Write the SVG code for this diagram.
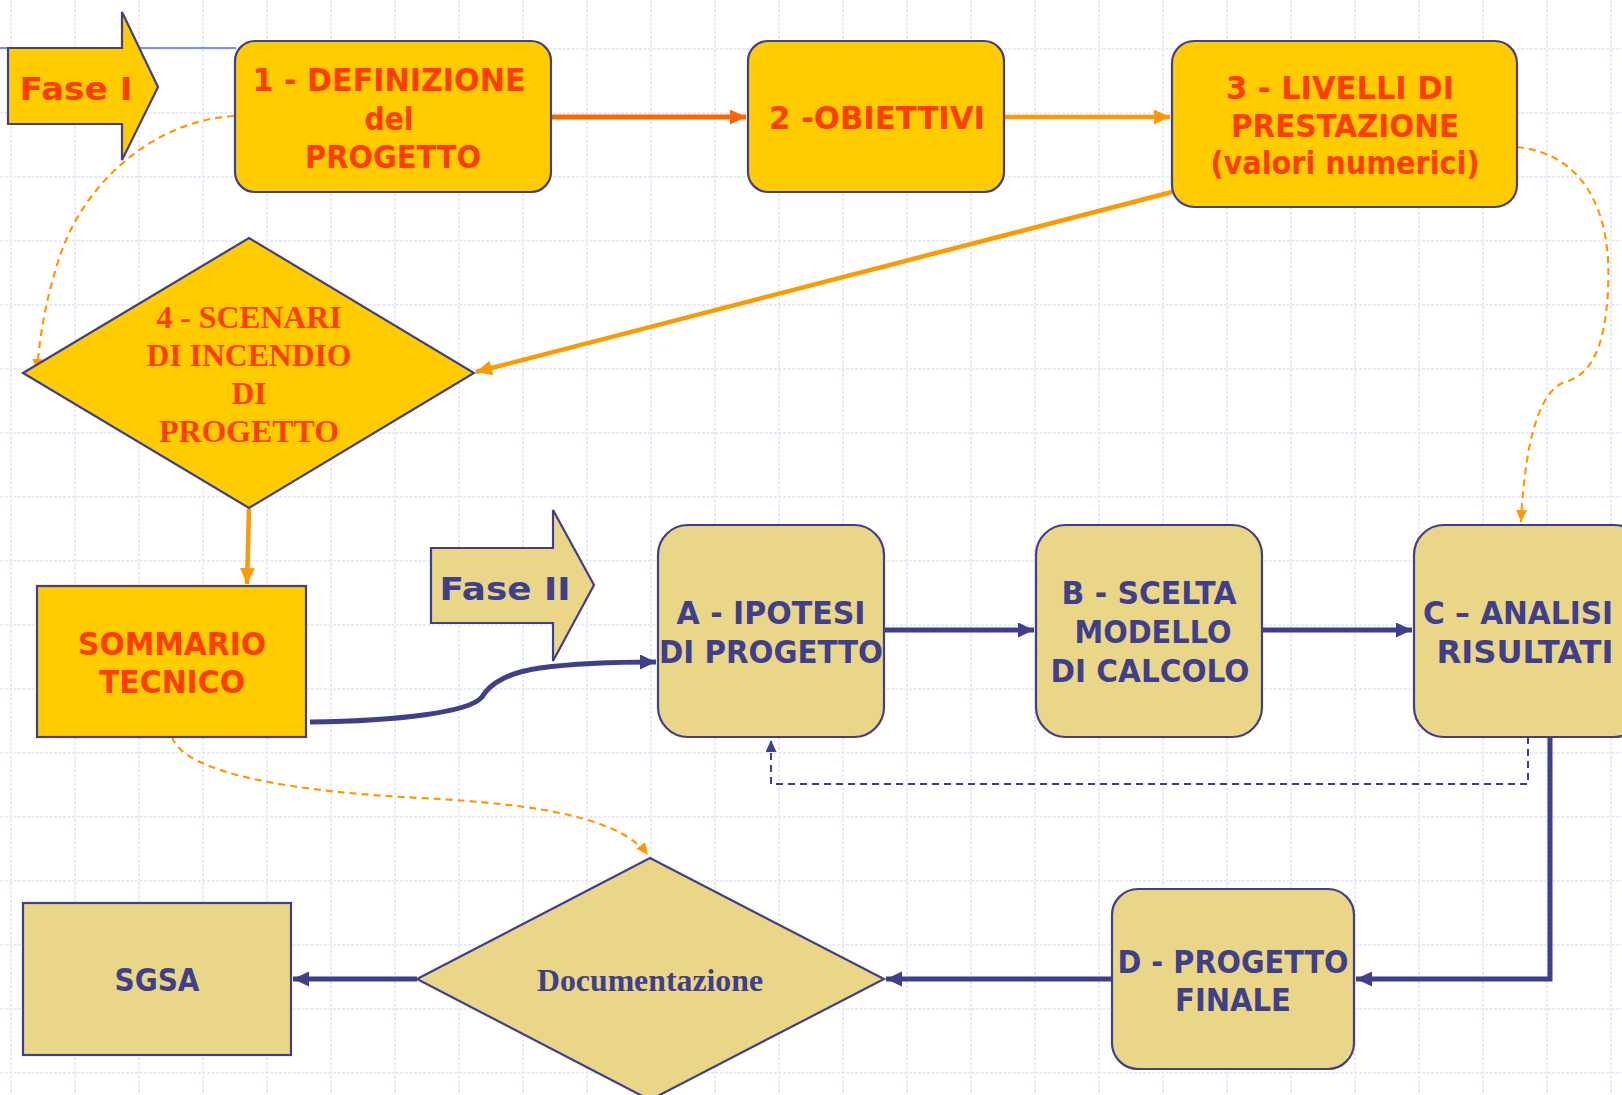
<svg xmlns="http://www.w3.org/2000/svg" width="1622" height="1095" viewBox="0 0 1622 1095">
<defs>
<style>
.grid{stroke:#dfe5fa;stroke-width:1.6;stroke-dasharray:3 1.5;fill:none}
.yel{fill:#FFCC00;stroke:#3F3F8C;stroke-width:2.2}
.kha{fill:#E9D686;stroke:#3F3F8C;stroke-width:2.2}
.ts{font-family:"DejaVu Sans","Verdana",sans-serif;font-weight:bold;font-size:32px;text-anchor:middle}
.tr{font-family:"Liberation Serif","Times New Roman",serif;font-weight:bold;font-size:32px;text-anchor:middle}
.red{fill:#FF3D00}
.nav{fill:#3F3F8C}
.c-red{stroke:#FF6600;stroke-width:5;fill:none}
.c-or{stroke:#FF9900;stroke-width:4.5;fill:none}
.c-ord{stroke:#FF9900;stroke-width:2.2;fill:none;stroke-dasharray:7 5}
.c-nav{stroke:#3F3F8C;stroke-width:5;fill:none}
.c-navd{stroke:#3F3F8C;stroke-width:2;fill:none;stroke-dasharray:7 5}
</style>
<marker id="aRed" markerUnits="userSpaceOnUse" markerWidth="18" markerHeight="16" refX="16" refY="7.5" orient="auto"><path d="M0,0 L16,7.5 L0,15 z" fill="#FF6600"/></marker>
<marker id="aOr" markerUnits="userSpaceOnUse" markerWidth="18" markerHeight="16" refX="16" refY="7.5" orient="auto"><path d="M0,0 L16,7.5 L0,15 z" fill="#FF9900"/></marker>
<marker id="aOrS" markerUnits="userSpaceOnUse" markerWidth="14" markerHeight="12" refX="12" refY="5.5" orient="auto"><path d="M0,0 L12,5.5 L0,11 z" fill="#FF9900"/></marker>
<marker id="aNav" markerUnits="userSpaceOnUse" markerWidth="18" markerHeight="16" refX="16" refY="7.5" orient="auto"><path d="M0,0 L16,7.5 L0,15 z" fill="#3F3F8C"/></marker>
<marker id="aNavS" markerUnits="userSpaceOnUse" markerWidth="14" markerHeight="12" refX="12" refY="5.5" orient="auto"><path d="M0,0 L12,5.5 L0,11 z" fill="#3F3F8C"/></marker>
</defs>
<rect x="0" y="0" width="1622" height="1095" fill="#FFFFFF"/>
<g id="grid">
<path class="grid" d="M11,0V1095M75,0V1095M139,0V1095M203,0V1095M267,0V1095M331,0V1095M395,0V1095M459,0V1095M523,0V1095M587,0V1095M651,0V1095M715,0V1095M779,0V1095M843,0V1095M907,0V1095M971,0V1095M1035,0V1095M1099,0V1095M1163,0V1095M1227,0V1095M1291,0V1095M1355,0V1095M1419,0V1095M1483,0V1095M1547,0V1095M1611,0V1095"/>
<path class="grid" d="M0,49H1622M0,113H1622M0,177H1622M0,241H1622M0,305H1622M0,369H1622M0,433H1622M0,497H1622M0,561H1622M0,625H1622M0,689H1622M0,753H1622M0,817H1622M0,881H1622M0,945H1622M0,1009H1622M0,1073H1622"/>
<path d="M0,48H236" stroke="#7F8FEA" stroke-width="1.8" fill="none"/>
</g>
<g id="connectors">
<path class="c-red" d="M551,117H746" marker-end="url(#aRed)"/>
<path class="c-or" d="M1004,117H1170" marker-end="url(#aOr)"/>
<path class="c-or" d="M1172,192L476,372" marker-end="url(#aOr)"/>
<path class="c-ord" d="M234,116C160,120 90,175 62,250C48,290 40,330 37,371" marker-end="url(#aOrS)"/>
<path class="c-or" d="M249,509L247,584" marker-end="url(#aOr)"/>
<path class="c-nav" d="M310,722C400,721 470,712 482,697C490,683 510,672 540,668C570,664 610,662 656,662" marker-end="url(#aNav)"/>
<path class="c-nav" d="M884,630H1034" marker-end="url(#aNav)"/>
<path class="c-nav" d="M1262,630H1412" marker-end="url(#aNav)"/>
<path class="c-navd" d="M1528,737V784H771V740" marker-end="url(#aNavS)"/>
<path class="c-nav" d="M1550,737V979H1356" marker-end="url(#aNav)"/>
<path class="c-nav" d="M1112,979H886" marker-end="url(#aNav)"/>
<path class="c-nav" d="M417,979H293" marker-end="url(#aNav)"/>
<path class="c-ord" d="M172,737C185,775 300,792 420,798C540,804 620,818 648,855" marker-end="url(#aOrS)"/>
<path class="c-ord" d="M1517,147C1590,155 1612,220 1608,290C1605,350 1590,375 1565,382C1540,390 1525,440 1521,522" marker-end="url(#aOrS)"/>
</g>
<g id="fase1">
<path class="yel" d="M8,48H122V12L158,87L122,160V124H8Z"/>
<text class="ts red" x="76" y="100" font-size="39" textLength="113" lengthAdjust="spacingAndGlyphs">Fase I</text>
</g>
<g id="n1">
<rect class="yel" x="235" y="41" width="316" height="151" rx="20"/>
<text class="ts red" x="389" y="91" textLength="273" lengthAdjust="spacingAndGlyphs">1 - DEFINIZIONE</text>
<text class="ts red" x="389" y="130" textLength="49" lengthAdjust="spacingAndGlyphs">del</text>
<text class="ts red" x="393" y="168" textLength="176" lengthAdjust="spacingAndGlyphs">PROGETTO</text>
</g>
<g id="n2">
<rect class="yel" x="748" y="41" width="256" height="151" rx="20"/>
<text class="ts red" x="877" y="129" textLength="216" lengthAdjust="spacingAndGlyphs">2 -OBIETTIVI</text>
</g>
<g id="n3">
<rect class="yel" x="1172" y="41" width="345" height="166" rx="22"/>
<text class="ts red" x="1340" y="99" textLength="228" lengthAdjust="spacingAndGlyphs">3 - LIVELLI DI</text>
<text class="ts red" x="1345" y="137" textLength="228" lengthAdjust="spacingAndGlyphs">PRESTAZIONE</text>
<text class="ts red" x="1345" y="174" textLength="269" lengthAdjust="spacingAndGlyphs">(valori numerici)</text>
</g>
<g id="n4">
<path class="yel" d="M23,373L249,238L474,373L249,508Z"/>
<text class="tr red" x="249" y="328" textLength="185" lengthAdjust="spacingAndGlyphs">4 - SCENARI</text>
<text class="tr red" x="249" y="366" textLength="205" lengthAdjust="spacingAndGlyphs">DI INCENDIO</text>
<text class="tr red" x="249" y="404" textLength="35" lengthAdjust="spacingAndGlyphs">DI</text>
<text class="tr red" x="249" y="442" textLength="180" lengthAdjust="spacingAndGlyphs">PROGETTO</text>
</g>
<g id="sommario">
<rect class="yel" x="37" y="586" width="269" height="151"/>
<text class="ts red" x="172" y="655" textLength="188" lengthAdjust="spacingAndGlyphs">SOMMARIO</text>
<text class="ts red" x="172" y="693" textLength="146" lengthAdjust="spacingAndGlyphs">TECNICO</text>
</g>
<g id="fase2">
<path class="kha" d="M431,548H553V510L594,585L553,661V623H431Z"/>
<text class="ts nav" x="505" y="600" font-size="40" textLength="131" lengthAdjust="spacingAndGlyphs">Fase II</text>
</g>
<g id="nA">
<rect class="kha" x="658" y="525" width="226" height="212" rx="30"/>
<text class="ts nav" x="771" y="624" textLength="189" lengthAdjust="spacingAndGlyphs">A - IPOTESI</text>
<text class="ts nav" x="771" y="663" textLength="224" lengthAdjust="spacingAndGlyphs">DI PROGETTO</text>
</g>
<g id="nB">
<rect class="kha" x="1036" y="525" width="226" height="212" rx="30"/>
<text class="ts nav" x="1149" y="604" textLength="175" lengthAdjust="spacingAndGlyphs">B - SCELTA</text>
<text class="ts nav" x="1153" y="643" textLength="157" lengthAdjust="spacingAndGlyphs">MODELLO</text>
<text class="ts nav" x="1150" y="682" textLength="199" lengthAdjust="spacingAndGlyphs">DI CALCOLO</text>
</g>
<g id="nC">
<rect class="kha" x="1414" y="525" width="230" height="212" rx="30"/>
<text class="ts nav" x="1518" y="624" textLength="190" lengthAdjust="spacingAndGlyphs">C – ANALISI</text>
<text class="ts nav" x="1525" y="663" textLength="177" lengthAdjust="spacingAndGlyphs">RISULTATI</text>
</g>
<g id="nD">
<rect class="kha" x="1112" y="889" width="242" height="180" rx="26"/>
<text class="ts nav" x="1233" y="973" textLength="231" lengthAdjust="spacingAndGlyphs">D - PROGETTO</text>
<text class="ts nav" x="1233" y="1011" textLength="116" lengthAdjust="spacingAndGlyphs">FINALE</text>
</g>
<g id="doc">
<path class="kha" d="M417,979L650,858L884,979L650,1100Z"/>
<text class="tr nav" x="650" y="991" textLength="226" lengthAdjust="spacingAndGlyphs">Documentazione</text>
</g>
<g id="sgsa">
<rect class="kha" x="23" y="903" width="268" height="152"/>
<text class="ts nav" x="157" y="991" textLength="85" lengthAdjust="spacingAndGlyphs">SGSA</text>
</g>
</svg>
